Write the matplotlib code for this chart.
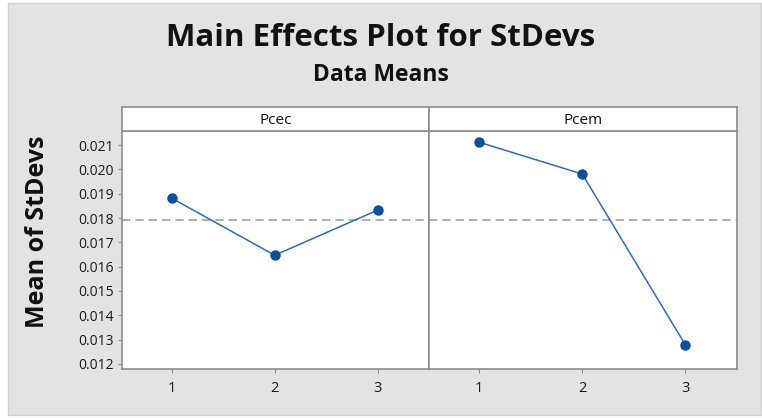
import matplotlib
matplotlib.use("Agg")
import matplotlib.pyplot as plt
from matplotlib.patches import Rectangle

plt.rcParams['font.family'] = ['Open Sans', 'DejaVu Sans']

factors = ["Pcec", "Pcem"]
levels = [1, 2, 3]
pcec_means = [0.01882, 0.01647, 0.01833]
pcem_means = [0.02112, 0.01981, 0.01278]
grand_mean = 0.01791
yticks = [0.012, 0.013, 0.014, 0.015, 0.016, 0.017, 0.018, 0.019, 0.020, 0.021]

W, H = 762, 418
fig = plt.figure(figsize=(W / 100, H / 100), dpi=100, facecolor='white')
bg = Rectangle((8 / W, 3 / H), (761 - 8) / W, (415 - 3) / H, transform=fig.transFigure,
               facecolor='#e3e3e3', edgecolor='#d0d0d0', linewidth=1, zorder=-10)
fig.patches.append(bg)

left, right = 122 / W, 737 / W
bottom, top = 1 - 369 / H, 1 - 131 / H
strip_top = 1 - 107 / H
pw = (right - left) / 2

line_color = '#2a6cc0'
marker_color = '#0b4fa0'
spine_color = '#8c8c8c'

for i, (name, vals) in enumerate(zip(factors, [pcec_means, pcem_means])):
    ax = fig.add_axes([left + i * pw, bottom, pw, top - bottom])
    ax.set_facecolor('white')
    ax.plot(levels, vals, color=line_color, lw=1.1, marker='o', ms=6.5,
            mfc=marker_color, mec=marker_color, zorder=3)
    ax.axhline(grand_mean, color='#a0a0a0', lw=1.2, ls=(0, (5, 3)), zorder=2)
    ax.set_xlim(0.52, 3.5)
    ax.set_ylim(0.01179, 0.02158)
    ax.set_xticks(levels)
    ax.set_xticklabels([str(l) for l in levels])
    ax.set_yticks(yticks)
    if i == 0:
        ax.set_yticklabels([f"{t:.3f}" for t in yticks])
    else:
        ax.tick_params(axis='y', left=False, labelleft=False)
    ax.tick_params(axis='both', direction='out', length=3, width=0.8, color=spine_color,
                   labelsize=10, labelcolor='#1a1a1a', pad=3)
    ax.tick_params(axis='x', pad=6, labelsize=10.5)
    for s in ax.spines.values():
        s.set_color(spine_color)
        s.set_linewidth(1.2)
    # strip
    sax = fig.add_axes([left + i * pw, top, pw, strip_top - top])
    sax.set_facecolor('white')
    sax.set_xticks([])
    sax.set_yticks([])
    for s in sax.spines.values():
        s.set_color(spine_color)
        s.set_linewidth(1.2)
    sax.text(0.5, 0.45, name, ha='center', va='center', fontsize=11, color='#111111',
             transform=sax.transAxes)

fig.text(0.5, 1 - 38 / H, "Main Effects Plot for StDevs", ha='center', va='center',
         fontsize=22.5, fontweight='bold', color='#111111')
fig.text(0.5, 1 - 75 / H, "Data Means", ha='center', va='center',
         fontsize=16.5, fontweight='bold', color='#111111')
fig.text(38 / W, 1 - 232 / H, "Mean of StDevs", ha='center', va='center', rotation=90,
         fontsize=18, fontweight='bold', color='#111111')

fig.savefig("out.png", dpi=100, facecolor=fig.get_facecolor())
